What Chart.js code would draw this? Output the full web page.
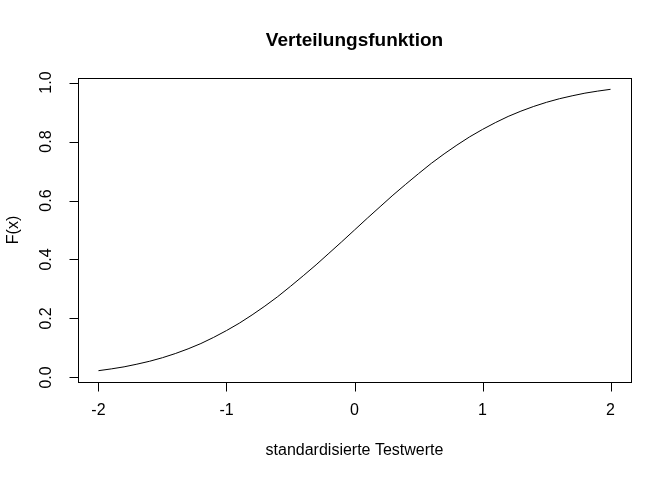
<!DOCTYPE html>
<html>
<head>
<meta charset="utf-8">
<script src="https://cdn.jsdelivr.net/npm/chart.js@4/dist/chart.umd.min.js"></script>
<style>
  html, body { margin: 0; padding: 0; background: #fff; }
  #wrap { width: 672px; height: 480px; }
</style>
</head>
<body>
<div id="wrap"><canvas id="myChart" width="672" height="480"></canvas></div>
<script>
// Werte
const xWerte = [-2.0, -1.9, -1.8, -1.7, -1.6, -1.5, -1.4, -1.3, -1.2, -1.1, -1.0,
                -0.9, -0.8, -0.7, -0.6, -0.5, -0.4, -0.3, -0.2, -0.1, 0.0,
                0.1, 0.2, 0.3, 0.4, 0.5, 0.6, 0.7, 0.8, 0.9, 1.0,
                1.1, 1.2, 1.3, 1.4, 1.5, 1.6, 1.7, 1.8, 1.9, 2.0];
const fWerte = [0.023, 0.029, 0.036, 0.045, 0.055, 0.067, 0.081, 0.097, 0.115, 0.136, 0.159,
                0.184, 0.212, 0.242, 0.274, 0.309, 0.345, 0.382, 0.421, 0.460, 0.500,
                0.540, 0.579, 0.618, 0.655, 0.691, 0.726, 0.758, 0.788, 0.816, 0.841,
                0.864, 0.885, 0.903, 0.919, 0.933, 0.945, 0.955, 0.964, 0.971, 0.977];
const xTicks = [-2, -1, 0, 1, 2];
const yTicks = [0.0, 0.2, 0.4, 0.6, 0.8, 1.0];
const yTickLabels = ['0.0', '0.2', '0.4', '0.6', '0.8', '1.0'];

const titel = 'Verteilungsfunktion';
const xTitel = 'standardisierte Testwerte';
const yTitel = 'F(x)';

const fontFam = '"Liberation Sans", Arial, sans-serif';

// R-artiger Rahmen, Achsen und Beschriftungen
const rAchsen = {
    id: 'rAchsen',
    afterDraw(chart) {
        const ctx = chart.ctx;
        const a = chart.chartArea;
        const sx = chart.scales.x;
        const sy = chart.scales.y;
        ctx.save();
        ctx.strokeStyle = '#000';
        ctx.fillStyle = '#000';
        ctx.lineWidth = 1;

        // Rahmen
        ctx.strokeRect(Math.round(a.left) + 0.5, Math.round(a.top) + 0.5,
            Math.round(a.right - a.left), Math.round(a.bottom - a.top));

        // x-Achse
        ctx.font = '16px ' + fontFam;
        ctx.textAlign = 'center';
        ctx.textBaseline = 'middle';
        const yb = Math.round(a.bottom) + 0.5;
        ctx.beginPath();
        ctx.moveTo(Math.round(sx.getPixelForValue(xTicks[0])) + 0.5, yb);
        ctx.lineTo(Math.round(sx.getPixelForValue(xTicks[xTicks.length - 1])) + 0.5, yb);
        xTicks.forEach(v => {
            const px = Math.round(sx.getPixelForValue(v)) + 0.5;
            ctx.moveTo(px, yb);
            ctx.lineTo(px, yb + 9);
        });
        ctx.stroke();
        xTicks.forEach(v => {
            ctx.fillText(String(v), sx.getPixelForValue(v), a.bottom + 29);
        });

        // y-Achse
        const xl = Math.round(a.left) + 0.5;
        ctx.beginPath();
        ctx.moveTo(xl, Math.round(sy.getPixelForValue(yTicks[0])) + 0.5);
        ctx.lineTo(xl, Math.round(sy.getPixelForValue(yTicks[yTicks.length - 1])) + 0.5);
        yTicks.forEach(v => {
            const py = Math.round(sy.getPixelForValue(v)) + 0.5;
            ctx.moveTo(xl, py);
            ctx.lineTo(xl - 9, py);
        });
        ctx.stroke();
        yTicks.forEach((v, i) => {
            ctx.save();
            ctx.translate(a.left - 31, sy.getPixelForValue(v));
            ctx.rotate(-Math.PI / 2);
            ctx.fillText(yTickLabels[i], 0, 0);
            ctx.restore();
        });

        // Titel
        ctx.font = 'bold 19px ' + fontFam;
        ctx.fillText(titel, (a.left + a.right) / 2, 41);

        // Achsentitel
        ctx.font = '16px ' + fontFam;
        ctx.fillText(xTitel, (a.left + a.right) / 2, a.bottom + 69);
        ctx.save();
        ctx.translate(14, (a.top + a.bottom) / 2);
        ctx.rotate(-Math.PI / 2);
        ctx.fillText(yTitel, 0, 0);
        ctx.restore();

        ctx.restore();
    }
};

const ctx = document.getElementById('myChart').getContext('2d');
const myChart = new Chart(ctx, {
    type: 'line',
    data: {
        datasets: [{
            data: xWerte.map((x, i) => ({ x: x, y: fWerte[i] })),
            borderColor: '#000',
            borderWidth: 1,
            pointRadius: 0,
            tension: 0,
            fill: false
        }]
    },
    options: {
        responsive: false,
        animation: false,
        layout: {
            padding: { left: 78, right: 41, top: 78, bottom: 98 }
        },
        plugins: {
            legend: { display: false },
            tooltip: { enabled: false }
        },
        scales: {
            x: { type: 'linear', min: -2.16, max: 2.16, display: false },
            y: { type: 'linear', min: -0.0154, max: 1.0154, display: false }
        }
    },
    plugins: [rAchsen]
});
</script>
</body>
</html>
